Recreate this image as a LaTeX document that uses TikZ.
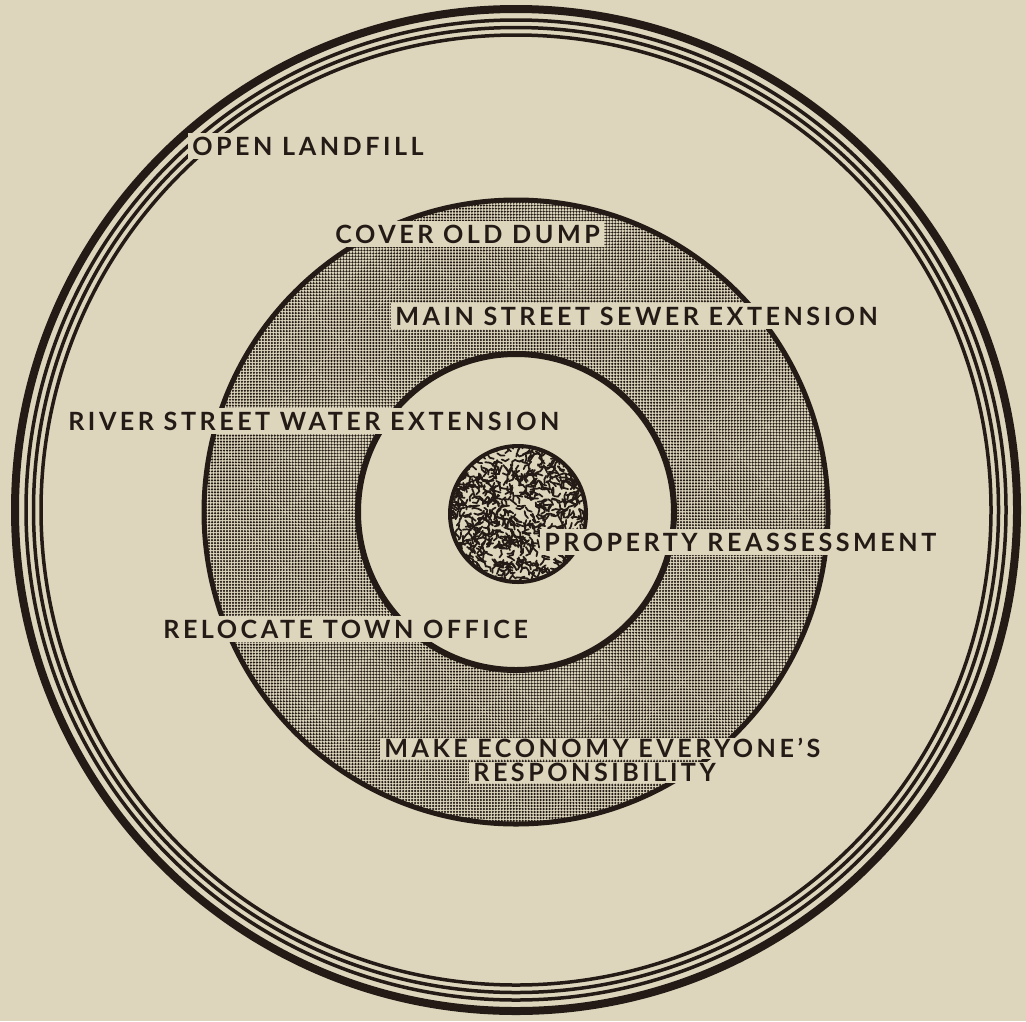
\documentclass[tikz,border=0pt]{standalone}
\usepackage{fontspec}
\setsansfont{Lato}[LetterSpace=14]
\usetikzlibrary{patterns}
\definecolor{paper}{RGB}{221,214,188}
\definecolor{ink}{RGB}{36,27,22}
\pgfdeclarepatternformonly{stipple}{\pgfpoint{-1pt}{-1pt}}{\pgfpoint{1pt}{1pt}}{\pgfpoint{1.7pt}{1.7pt}}{%
  \pgfpathcircle{\pgfpointorigin}{0.7pt}\pgfusepath{fill}}
\begin{document}
\begin{tikzpicture}[x=0.02cm, y=-0.02cm,
  lbl/.style={fill=paper, text=ink, font=\sffamily\bfseries\fontsize{14.3}{16}\selectfont,
    inner xsep=0.08cm, inner ysep=0.08cm, text height=0.36cm, text depth=0pt, anchor=west}]
\path[use as bounding box, fill=paper] (0,0) rectangle (1026,1021);
% outer rings
\coordinate (c) at (516,510);
\draw[ink, line width=0.16cm] (c) circle[radius=501];
\foreach \r in {490,482.5,475}
  \draw[ink, line width=0.07cm] (c) circle[radius=\r];
% shaded ring
\coordinate (m) at (516,512);
\fill[pattern=stipple, pattern color=ink, even odd rule] (m) circle[radius=312] (m) circle[radius=158];
\draw[ink, line width=0.1cm] (m) circle[radius=312];
\draw[ink, line width=0.12cm] (m) circle[radius=158];
% speckled centre
\coordinate (d) at (518,514);
\begin{scope}
  \clip (d) circle[radius=68];
  \pgfmathsetseed{42}
  \foreach \i in {1,...,900}{
    \pgfmathsetmacro\px{518+70*rand}
    \pgfmathsetmacro\py{514+70*rand}
    \pgfmathsetmacro\ang{180*rand}
    \draw[ink, line width=0.035cm, line cap=round] (\px,\py) -- ++(\ang:4) -- ++(\ang+70*rand:4);
  }
\end{scope}
\draw[ink, line width=0.08cm] (d) circle[radius=68];
% labels
\node[lbl] (open) at (188,146) {OPEN LANDFILL};
\node[lbl] (cover) at (331,234) {COVER OLD DUMP};
\node[lbl] (main) at (391,316) {MAIN STREET SEWER EXTENSION};
\node[lbl] (river) at (64,421) {RIVER STREET WATER EXTENSION};
\node[lbl] (prop) at (540,542) {PROPERTY REASSESSMENT};
\node[lbl] (reloc) at (159,629) {RELOCATE TOWN OFFICE};
\node[lbl, inner ysep=0.03cm] (econ) at (380,748) {MAKE ECONOMY EVERYONE’S};
\node[lbl, inner ysep=0.03cm] (resp) at (469,772) {RESPONSIBILITY};
\end{tikzpicture}
\end{document}
